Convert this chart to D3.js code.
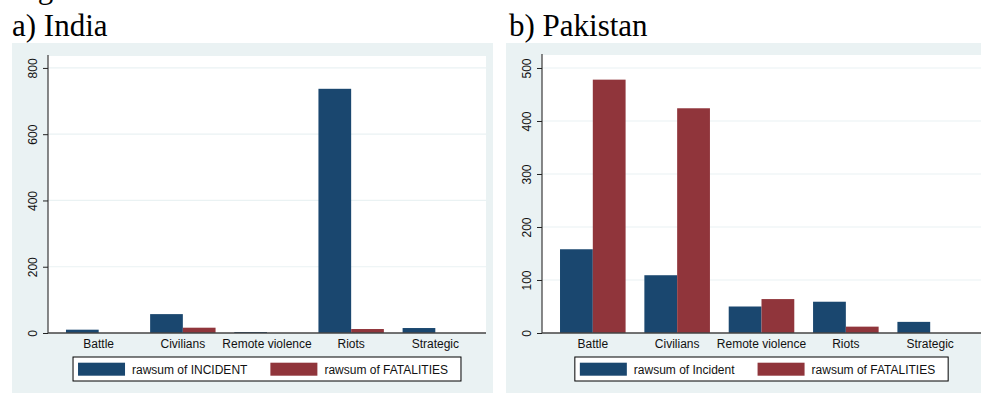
<!DOCTYPE html>
<html>
<head>
<meta charset="utf-8">
<script src="https://cdn.jsdelivr.net/npm/d3@7"></script>
<style>
  html, body { margin: 0; padding: 0; background: #ffffff; }
  svg { display: block; }
</style>
</head>
<body>
<svg id="chart" width="981" height="393"></svg>
<script>
// Event types shared by both panels
const categories = ["Battle", "Civilians", "Remote violence", "Riots", "Strategic"];

// a) India
const indiaIncidents  = [10, 57, 3, 737, 15];
const indiaFatalities = [0, 16, 0, 12, 0];
const indiaTicks = [0, 200, 400, 600, 800];
const indiaLegend = ["rawsum of INCIDENT", "rawsum of FATALITIES"];

// b) Pakistan
const pakIncidents  = [158, 109, 50, 59, 21];
const pakFatalities = [478, 424, 64, 12, 0];
const pakTicks = [0, 100, 200, 300, 400, 500];
const pakLegend = ["rawsum of Incident", "rawsum of FATALITIES"];

const seriesColors = ["#1a476f", "#90353b"];
const svg = d3.select("#chart");

// Caption line above the panels (only its descenders fall inside the page)
svg.append("text")
  .attr("x", 12).attr("y", -2)
  .attr("font-family", "Liberation Serif, Times New Roman, serif")
  .attr("font-size", 31).attr("fill", "#000")
  .text("Figure");

function panel(cfg) {
  const g = svg.append("g");

  // outer panel background
  g.append("rect")
    .attr("x", cfg.bg[0]).attr("y", 43)
    .attr("width", cfg.bg[1] - cfg.bg[0]).attr("height", 393 - 43)
    .attr("fill", "#eaf2f3");

  // panel title
  g.append("text")
    .attr("x", cfg.titleX).attr("y", 35.5)
    .attr("font-family", "Liberation Serif, Times New Roman, serif")
    .attr("font-size", 31).attr("fill", "#000")
    .text(cfg.title);

  const x = d3.scaleBand().domain(categories)
    .range([cfg.plot[0], cfg.plot[1]])
    .paddingInner(0.2226).paddingOuter(0.2136);
  const xs = d3.scaleBand().domain([0, 1]).range([0, x.bandwidth()]);
  const y = d3.scaleLinear().domain([0, cfg.ymax]).range([333, cfg.top]);

  // white plot region
  g.append("rect")
    .attr("x", cfg.plot[0]).attr("y", cfg.top)
    .attr("width", cfg.plot[1] - cfg.plot[0]).attr("height", 333 - cfg.top)
    .attr("fill", "#ffffff");

  // horizontal grid
  g.selectAll("line.grid").data(cfg.ticks.filter(d => d > 0)).join("line")
    .attr("class", "grid")
    .attr("x1", cfg.plot[0]).attr("x2", cfg.plot[1])
    .attr("y1", d => y(d)).attr("y2", d => y(d))
    .attr("stroke", "#eaf2f3").attr("stroke-width", 1.2);

  // bars
  const rows = categories.map((c, i) => ({ c, v: [cfg.s1[i], cfg.s2[i]] }));
  const grp = g.selectAll("g.cat").data(rows).join("g")
    .attr("class", "cat")
    .attr("transform", d => `translate(${x(d.c)},0)`);
  grp.selectAll("rect").data(d => d.v.map((v, k) => ({ v, k }))).join("rect")
    .attr("x", d => xs(d.k))
    .attr("width", xs.bandwidth())
    .attr("y", d => y(d.v))
    .attr("height", d => 333 - y(d.v))
    .attr("fill", d => seriesColors[d.k]);

  // y axis
  const yAxis = d3.axisLeft(y).tickValues(cfg.ticks).tickSize(5).tickPadding(4);
  const ya = g.append("g").attr("transform", `translate(${cfg.plot[0]},0)`).call(yAxis);
  ya.select(".domain").attr("d", `M0,${cfg.top - 1}V333`)
    .attr("stroke", "#555").attr("stroke-width", 1.4);
  ya.selectAll(".tick line").attr("stroke", "#222").attr("stroke-width", 1);
  ya.selectAll(".tick text")
    .attr("font-family", "Liberation Sans, Arial, sans-serif")
    .attr("font-size", 12).attr("fill", "#111")
    .attr("transform", "rotate(-90)")
    .attr("x", 0).attr("y", 0)
    .attr("dy", 0)
    .attr("text-anchor", "middle")
    .attr("transform", d => `translate(-11,0) rotate(-90)`);

  // x axis line
  g.append("line")
    .attr("x1", cfg.plot[0]).attr("x2", cfg.plot[1])
    .attr("y1", 333).attr("y2", 333)
    .attr("stroke", "#444").attr("stroke-width", 1.4);

  // category labels
  g.selectAll("text.cat").data(categories).join("text")
    .attr("class", "cat")
    .attr("x", d => x(d) + x.bandwidth() / 2)
    .attr("y", 348.3)
    .attr("text-anchor", "middle")
    .attr("font-family", "Liberation Sans, Arial, sans-serif")
    .attr("font-size", 12).attr("fill", "#111")
    .text(d => d);

  // legend
  const lg = g.append("g");
  const box = lg.append("rect")
    .attr("y", 357).attr("height", 24)
    .attr("fill", "#ffffff").attr("stroke", "#000").attr("stroke-width", 1);
  let cx = 0;
  const items = [];
  cfg.legend.forEach((label, k) => {
    const it = lg.append("g");
    it.append("rect").attr("x", 0).attr("y", 362.7).attr("width", 47).attr("height", 13)
      .attr("fill", seriesColors[k]);
    const t = it.append("text").attr("x", 54).attr("y", 374)
      .attr("font-family", "Liberation Sans, Arial, sans-serif")
      .attr("font-size", 12).attr("fill", "#111").text(label);
    const w = 54 + t.node().getComputedTextLength();
    items.push({ it, off: cx });
    cx += w + (k === 0 ? 23 : 0);
  });
  const totalW = 5 + cx + 13;
  const center = (cfg.plot[0] + cfg.plot[1]) / 2;
  const left = center - totalW / 2;
  box.attr("x", left).attr("width", totalW);
  items.forEach(d => d.it.attr("transform", `translate(${left + 5 + d.off},0)`));
}

panel({
  title: "a) India", titleX: 12, bg: [12, 493], plot: [48, 486], top: 56,
  ymax: 836, ticks: indiaTicks, s1: indiaIncidents, s2: indiaFatalities, legend: indiaLegend
});
panel({
  title: "b) Pakistan", titleX: 509, bg: [506, 981], plot: [542, 981], top: 55,
  ymax: 524.5, ticks: pakTicks, s1: pakIncidents, s2: pakFatalities, legend: pakLegend
});
</script>
</body>
</html>
